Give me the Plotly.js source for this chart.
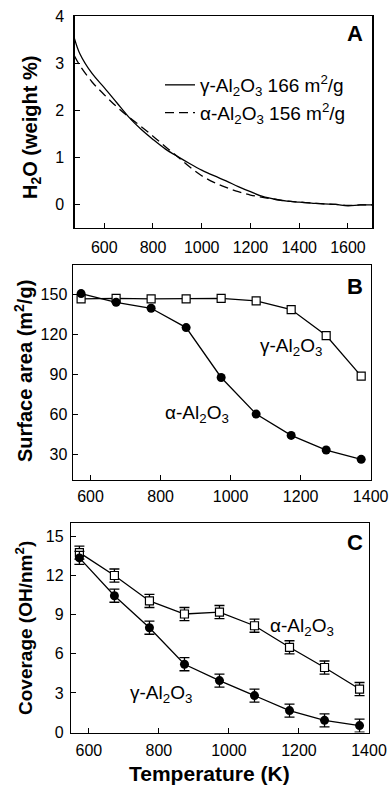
<!DOCTYPE html>
<html>
<head>
<meta charset="utf-8">
<script src="https://cdn.plot.ly/plotly-3.0.1.min.js"></script>
<style>html,body{margin:0;padding:0;background:#fff;}#chart{width:391px;height:788px;}</style>
</head>
<body>
<div id="chart"></div>
<script>
// Panel A: water loss (weight %) vs temperature (K)
const tempA = [478, 500, 550, 600, 650, 700, 750, 800, 850, 900, 950, 1000, 1050, 1100, 1150, 1200, 1250, 1300, 1350, 1400, 1450, 1500, 1550, 1600, 1650, 1700];
const waterGamma = [3.52, 3.2, 2.78, 2.48, 2.17, 1.86, 1.6, 1.38, 1.18, 1.02, 0.87, 0.73, 0.61, 0.5, 0.38, 0.27, 0.17, 0.11, 0.07, 0.05, 0.03, 0.01, 0.0, -0.03, -0.01, -0.01];
const waterAlpha = [3.15, 2.95, 2.6, 2.33, 2.08, 1.86, 1.66, 1.45, 1.23, 1.02, 0.8, 0.61, 0.47, 0.36, 0.27, 0.2, 0.15, 0.11, 0.07, 0.05, 0.03, 0.01, 0.0, -0.02, -0.01, -0.01];
const legendA = ["γ-Al<sub>2</sub>O<sub>3</sub> 166 m<sup>2</sup>/g", "α-Al<sub>2</sub>O<sub>3</sub> 156 m<sup>2</sup>/g"];

// Panels B and C: calcination temperatures (K)
const tempBC = [573, 673, 773, 873, 973, 1073, 1173, 1273, 1373];
// Panel B: surface area (m2/g)
const areaGamma = [146.5, 147, 146.5, 146.5, 147, 145, 138.5, 119, 88.5];
const areaAlpha = [150.5, 144, 139.5, 125, 87.5, 60, 44, 33, 26];
// Panel C: OH coverage (OH/nm2)
const covAlpha = [13.75, 12.0, 10.05, 9.05, 9.2, 8.15, 6.5, 4.95, 3.3];
const covAlphaErr = [0.5, 0.5, 0.5, 0.5, 0.5, 0.5, 0.5, 0.5, 0.5];
const covGamma = [13.35, 10.45, 8.0, 5.2, 3.95, 2.8, 1.65, 0.9, 0.5];
const covGammaErr = [0.5, 0.5, 0.5, 0.5, 0.5, 0.5, 0.5, 0.5, 0.5];

const ticksA = [600, 800, 1000, 1200, 1400, 1600];
const ticksBCx = [600, 800, 1000, 1200, 1400];
const ticksAy = [0, 1, 2, 3, 4];
const ticksBy = [30, 60, 90, 120, 150];
const ticksCy = [0, 3, 6, 9, 12, 15];

const FONT = "Liberation Sans, Arial, Helvetica, sans-serif";
const W = 391, H = 788;
const px = v => v / W;
const py = v => 1 - v / H;

const traces = [
  {x: tempA, y: waterGamma, xaxis: 'x', yaxis: 'y', mode: 'lines', name: legendA[0],
   line: {color: '#000', width: 1.3, shape: 'spline'}},
  {x: tempA, y: waterAlpha, xaxis: 'x', yaxis: 'y', mode: 'lines', name: legendA[1],
   line: {color: '#000', width: 1.3, dash: '9px,5px', shape: 'spline'}},
  {x: tempBC, y: areaGamma, xaxis: 'x2', yaxis: 'y2', mode: 'lines+markers', showlegend: false,
   line: {color: '#000', width: 1.3},
   marker: {symbol: 'square', size: 8, color: '#fff', line: {color: '#000', width: 1.2}}},
  {x: tempBC, y: areaAlpha, xaxis: 'x2', yaxis: 'y2', mode: 'lines+markers', showlegend: false,
   line: {color: '#000', width: 1.3},
   marker: {symbol: 'circle', size: 9, color: '#000'}},
  {x: tempBC, y: covAlpha, xaxis: 'x3', yaxis: 'y3', mode: 'lines+markers', showlegend: false,
   error_y: {type: 'data', array: covAlphaErr, visible: true, color: '#000', thickness: 1.3, width: 5},
   line: {color: '#000', width: 1.3},
   marker: {symbol: 'square', size: 8, color: '#fff', line: {color: '#000', width: 1.2}}},
  {x: tempBC, y: covGamma, xaxis: 'x3', yaxis: 'y3', mode: 'lines+markers', showlegend: false,
   error_y: {type: 'data', array: covGammaErr, visible: true, color: '#000', thickness: 1.3, width: 5},
   line: {color: '#000', width: 1.3},
   marker: {symbol: 'circle', size: 9, color: '#000'}}
];

const axBase = {
  showline: true, mirror: true, linecolor: '#000', linewidth: 1.2,
  ticks: 'inside', ticklen: 5, tickwidth: 1, tickcolor: '#000',
  showgrid: false, zeroline: false, fixedrange: true,
  tickfont: {family: FONT, size: 16, color: '#000'}
};

function ann(text, x, y, size, extra) {
  return Object.assign({text: text, xref: 'paper', yref: 'paper', x: px(x), y: py(y),
    xanchor: 'center', yanchor: 'middle', showarrow: false,
    font: {family: FONT, size: size, color: '#000'}}, extra || {});
}

const layout = {
  width: W, height: H,
  margin: {l: 0, r: 0, t: 0, b: 0},
  paper_bgcolor: '#fff', plot_bgcolor: '#fff',
  font: {family: FONT, color: '#000'},
  showlegend: true,
  legend: {x: px(160), y: py(66), xanchor: 'left', yanchor: 'top',
           bgcolor: 'rgba(0,0,0,0)', font: {family: FONT, size: 19, color: '#000'},
           itemwidth: 30, tracegroupgap: 0},
  xaxis: Object.assign({}, axBase, {domain: [px(74.5), px(372.3)], range: [478, 1700], tickvals: ticksA, anchor: 'y', ticklabelstandoff: 5}),
  yaxis: Object.assign({}, axBase, {domain: [py(228), py(16)], range: [-0.5, 4], tickvals: ticksAy, anchor: 'x', ticklabelstandoff: 6}),
  xaxis2: Object.assign({}, axBase, {domain: [px(72.7), px(371)], range: [549, 1401], tickvals: ticksBCx, anchor: 'y2', ticklabelstandoff: 2}),
  yaxis2: Object.assign({}, axBase, {domain: [py(480), py(265)], range: [10.5, 172], tickvals: ticksBy, anchor: 'x2', ticklabelstandoff: 1}),
  xaxis3: Object.assign({}, axBase, {domain: [px(71), px(369)], range: [549, 1400], tickvals: ticksBCx, anchor: 'y3', ticklabelstandoff: 3}),
  yaxis3: Object.assign({}, axBase, {domain: [py(732.5), py(523.3)], range: [-0.03, 16], tickvals: ticksCy, anchor: 'x3', ticklabelstandoff: 3}),
  annotations: [
    ann('<b>A</b>', 355, 33, 22),
    ann('<b>B</b>', 355, 287, 22),
    ann('<b>C</b>', 355, 542, 22),
    ann('<b>H<sub>2</sub>O (weight %)</b>', 31, 128, 20, {textangle: -90}),
    ann('<b>Surface area (m<sup>2</sup>/g)</b>', 24, 371, 20, {textangle: -90}),
    ann('<b>Coverage (OH/nm<sup>2</sup>)</b>', 24, 628, 19, {textangle: -90}),
    ann('<b>Temperature (K)</b>', 209, 773, 21),
    ann('γ-Al<sub>2</sub>O<sub>3</sub>', 258, 347, 19, {xanchor: 'left'}),
    ann('α-Al<sub>2</sub>O<sub>3</sub>', 163, 414, 19, {xanchor: 'left'}),
    ann('α-Al<sub>2</sub>O<sub>3</sub>', 268, 627, 19, {xanchor: 'left'}),
    ann('γ-Al<sub>2</sub>O<sub>3</sub>', 128, 694, 19, {xanchor: 'left'})
  ]
};

Plotly.newPlot('chart', traces, layout, {displayModeBar: false, staticPlot: true});
</script>
</body>
</html>
